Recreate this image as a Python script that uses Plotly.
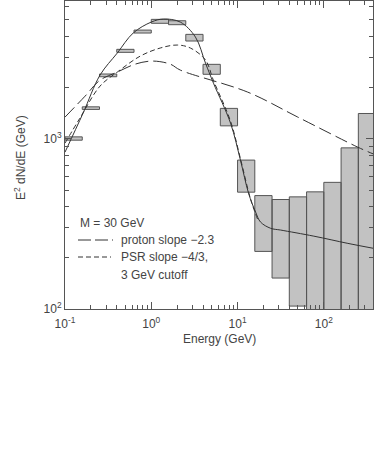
import plotly.graph_objects as go

# ---------------- data ----------------
bin_edges = [0.1, 0.1585, 0.2512, 0.3981, 0.631, 1.0, 1.585, 2.512, 3.981, 6.31,
             10.0, 15.85, 25.12, 39.81, 63.1, 100.0, 158.5, 251.2, 398.1]
box_low = [982, 1489, 2317, 3223, 4185, 4775, 4686, 3757, 2395, 1192,
           486, 218, 152, 104, 50, 50, 50, 50]
box_high = [1027, 1542, 2404, 3357, 4356, 5036, 4943, 4111, 2740, 1510,
            750, 464, 440, 456, 488, 555, 885, 1409]

total_E = [0.1, 0.162, 0.255, 0.403, 0.618, 1.0, 1.38, 2.17, 3.25, 4.25, 5.26,
           8.29, 10.8, 13.4, 16.2, 18.5, 24.2, 31.6, 76.6, 190, 381]
total_V = [835, 1416, 2371, 3190, 4188, 4855, 5058, 4855, 3963, 2786, 2123,
           1237, 750, 480, 371, 324, 298, 291, 268, 243, 227]

proton_E = [0.1, 0.171, 0.255, 0.403, 0.652, 1.03, 1.66, 2.17, 13.1, 49.9, 248, 381]
proton_V = [1342, 1782, 2213, 2466, 2748, 2864, 2748, 2535, 1882, 1342, 893, 812]

psr_E = [0.1, 0.149, 0.255, 0.403, 0.745, 1.27, 2.0, 2.84, 4.25, 5.26, 8.29, 10.8, 14.2, 17.5]
psr_V = [944, 1324, 2042, 2466, 3063, 3417, 3558, 3417, 2904, 2200, 1270, 765, 440, 326]

x_tickvals = [0.1, 1, 10, 100]
x_ticktext = ["10<sup>-1</sup>", "10<sup>0</sup>", "10<sup>1</sup>", "10<sup>2</sup>"]
y_tickvals = [100, 1000]
y_ticktext = ["10<sup>2</sup>", "10<sup>3</sup>"]

legend_title = "M = 30 GeV"
legend_labels = ["proton slope \u22122.3", "PSR slope \u22124/3,", "3 GeV cutoff"]
x_title = "Energy (GeV)"
y_title = "E<sup>2</sup> dN/dE (GeV)"

# ---------------- figure ----------------
LINE = "#333333"
TXT = "#444444"
FONT = "Liberation Sans"

fig = go.Figure()

# error boxes
bx, by = [], []
for i in range(len(box_low)):
    x0, x1 = bin_edges[i], bin_edges[i + 1]
    lo, hi = box_low[i], box_high[i]
    bx += [x0, x1, x1, x0, x0, None]
    by += [lo, lo, hi, hi, lo, None]
fig.add_trace(go.Scatter(x=bx, y=by, mode="lines", fill="toself",
                         fillcolor="#c2c2c2", line=dict(color="#555555", width=1),
                         hoverinfo="skip", showlegend=False))

fig.add_trace(go.Scatter(x=proton_E, y=proton_V, mode="lines", line_shape="spline",
                         line=dict(color=LINE, width=1, dash="13px,5px"), showlegend=False))
fig.add_trace(go.Scatter(x=psr_E, y=psr_V, mode="lines", line_shape="spline",
                         line=dict(color=LINE, width=1, dash="5px,3px"), showlegend=False))
fig.add_trace(go.Scatter(x=total_E, y=total_V, mode="lines", line_shape="spline",
                         line=dict(color=LINE, width=1), showlegend=False))

x_minor = [m * 10 ** e for e in (-1, 0, 1, 2) for m in range(2, 10)]
y_minor = [m * 10 ** e for e in (2, 3) for m in range(2, 10)]

axis_common = dict(showgrid=False, zeroline=False, showline=True, linecolor="#555555",
                   linewidth=1, mirror="allticks", ticks="inside", ticklen=7,
                   tickcolor="#555555", automargin=False,
                   tickfont=dict(family=FONT, size=12, color=TXT))

fig.update_xaxes(type="log", range=[-1, 2.57], tickmode="array",
                 tickvals=x_tickvals, ticktext=x_ticktext, ticklabelstandoff=4,
                 minor=dict(tickvals=x_minor, ticks="inside", ticklen=4, tickcolor="#555555"),
                 **axis_common)
fig.update_yaxes(type="log", range=[2, 3.81], tickmode="array",
                 tickvals=y_tickvals, ticktext=y_ticktext,
                 minor=dict(tickvals=y_minor, ticks="inside", ticklen=4, tickcolor="#555555"),
                 **axis_common)

W = 308.0
H = 308.0
def px(xp):
    return (xp - 65) / W
def py(yp):
    return (309 - yp) / H

annotations = [
    dict(text=x_title, xref="paper", yref="paper", x=0.5, y=0, yshift=-30,
         showarrow=False, xanchor="center", yanchor="middle",
         font=dict(family=FONT, size=12, color=TXT)),
    dict(text=y_title, xref="paper", yref="paper", x=0, xshift=-45, y=0.5, yshift=-3,
         textangle=-90, showarrow=False, xanchor="center", yanchor="middle",
         font=dict(family=FONT, size=12, color=TXT)),
    dict(text=legend_title, xref="paper", yref="paper", x=px(78), y=py(223),
         showarrow=False, xanchor="left", yanchor="middle",
         font=dict(family=FONT, size=12, color=TXT)),
    dict(text=legend_labels[0], xref="paper", yref="paper", x=px(119), y=py(240),
         showarrow=False, xanchor="left", yanchor="middle",
         font=dict(family=FONT, size=12, color=TXT)),
    dict(text=legend_labels[1], xref="paper", yref="paper", x=px(119), y=py(257),
         showarrow=False, xanchor="left", yanchor="middle",
         font=dict(family=FONT, size=12, color=TXT)),
    dict(text=legend_labels[2], xref="paper", yref="paper", x=px(119), y=py(275),
         showarrow=False, xanchor="left", yanchor="middle",
         font=dict(family=FONT, size=12, color=TXT)),
]

shapes = [
    dict(type="line", xref="paper", yref="paper", x0=px(78), x1=px(113), y0=py(240), y1=py(240),
         line=dict(color=LINE, width=1, dash="13px,4px")),
    dict(type="line", xref="paper", yref="paper", x0=px(78), x1=px(111), y0=py(257), y1=py(257),
         line=dict(color=LINE, width=1, dash="5px,3px")),
]

fig.update_layout(width=374, height=457, margin=dict(l=65, r=1, t=1, b=148),
                  paper_bgcolor="white", plot_bgcolor="white",
                  annotations=annotations, shapes=shapes, showlegend=False)

fig.write_html("out.html", config={"displayModeBar": False},
               post_script="document.body.style.margin='0';document.body.style.overflow='hidden';")
